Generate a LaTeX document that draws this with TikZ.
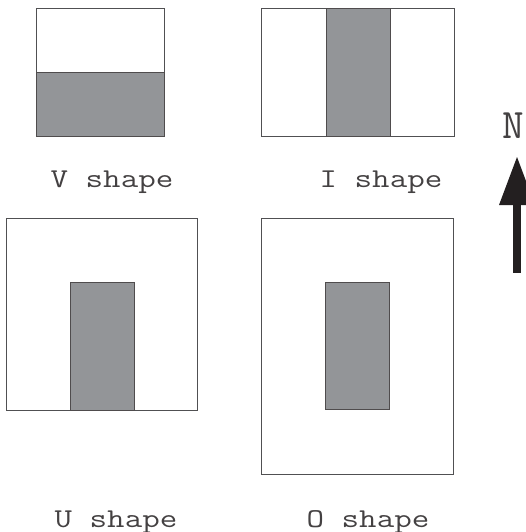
\documentclass[tikz,border=0pt]{standalone}
\definecolor{fillgray}{RGB}{147,149,152}
\definecolor{edge}{RGB}{80,80,82}
\definecolor{ink}{RGB}{35,31,32}
\begin{document}
\begin{tikzpicture}[x=1pt,y=-1pt,
  outer/.style={draw=edge,line width=0.9pt,fill=white},
  inner/.style={draw=ink!80,line width=0.9pt,fill=fillgray},
  lbl/.style={font=\ttfamily\fontsize{34}{36}\selectfont,anchor=base,inner sep=0pt,text=ink!85,yscale=0.8}]
\useasboundingbox (0,0) rectangle (526,532);
% V shape
\draw[outer] (36,8) rectangle (164,136);
\draw[inner] (36,72) rectangle (164,136);
\node[lbl] (vl) at (112,187) {V shape};
% I shape
\draw[outer] (261,8) rectangle (454,136);
\draw[inner] (326,8) rectangle (390,136);
\node[lbl] (il) at (381,187) {I shape};
% U shape
\draw[outer] (6,218) rectangle (197,410);
\draw[inner] (70,282) rectangle (134,410);
\node[lbl] (ul) at (116,527) {U shape};
% O shape
\draw[outer] (261,218) rectangle (453,474);
\draw[inner] (325,282) rectangle (389,409);
\node[lbl] (ol) at (368,527) {O shape};
% North arrow
\node[font=\ttfamily\fontsize{42}{44}\selectfont,anchor=base,inner sep=0pt,text=ink!85] (N) at (513,139) {N};
\coordinate (tail) at (517,273);
\coordinate (base) at (517,205);
\coordinate (tip) at (517,157);
\fill[ink] ([xshift=-4pt]tail) rectangle ([xshift=4pt]base);
\fill[ink] ([xshift=-18pt]base) -- (tip) -- ([xshift=18pt]base) -- cycle;
\end{tikzpicture}
\end{document}
